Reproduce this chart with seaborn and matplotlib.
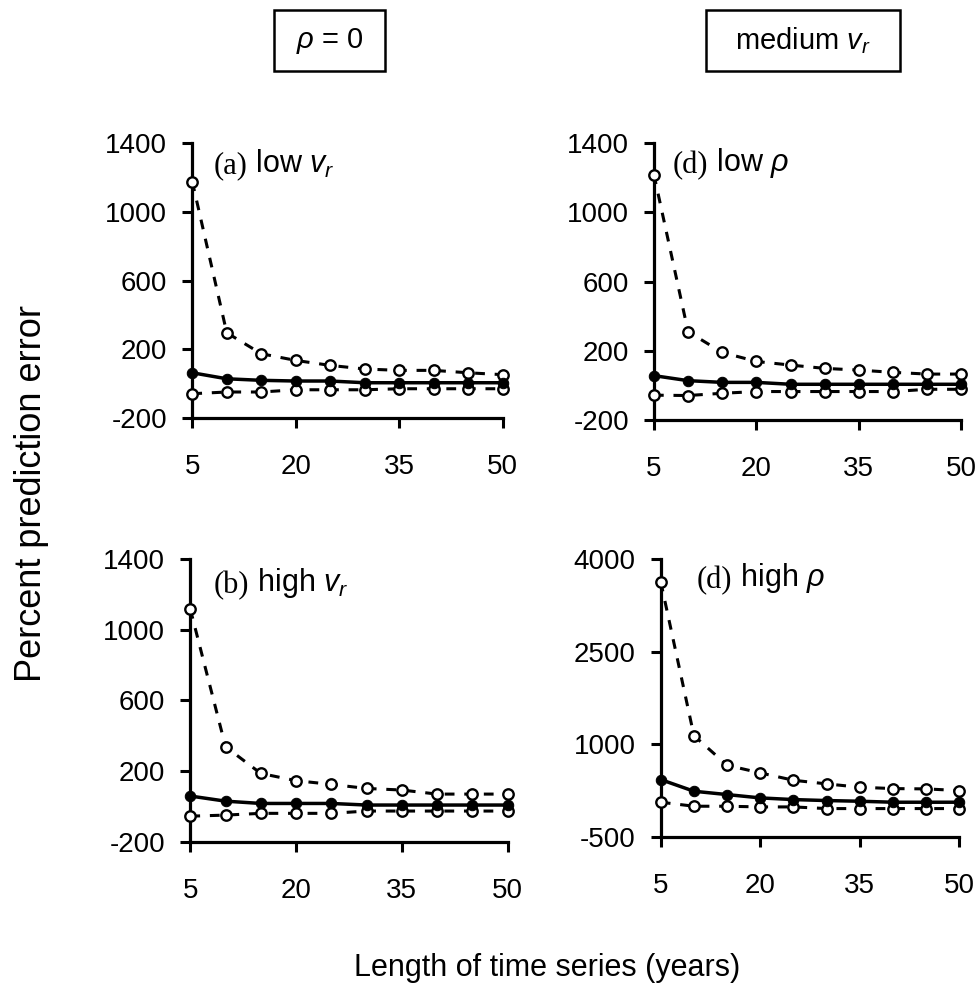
import pandas as pd
import seaborn as sns
import matplotlib.pyplot as plt
from matplotlib.patches import Rectangle

years = [5, 10, 15, 20, 25, 30, 35, 40, 45, 50]

# (a) rho = 0, low v_r
a_upper = [1177, 296, 174, 135, 106, 85, 77, 77, 63, 52]
a_mean = [63, 28, 19, 15, 15, 5, 5, 5, 5, 5]
a_lower = [-59, -49, -49, -36, -36, -36, -30, -30, -30, -30]

# (b) rho = 0, high v_r
b_upper = [1117, 338, 187, 146, 125, 102, 93, 70, 70, 70]
b_mean = [59, 30, 17, 17, 17, 8, 8, 8, 8, 8]
b_lower = [-55, -49, -39, -39, -39, -26, -26, -26, -26, -26]

# medium v_r, low rho
c_upper = [1219, 310, 190, 138, 117, 98, 88, 75, 65, 65]
c_mean = [56, 27, 17, 17, 6, 6, 6, 6, 6, 6]
c_lower = [-57, -59, -46, -36, -36, -36, -36, -36, -23, -23]

# medium v_r, high rho
d_upper = [3633, 1140, 660, 536, 417, 358, 304, 282, 277, 250]
d_mean = [428, 239, 185, 131, 104, 88, 77, 61, 61, 61]
d_lower = [61, -4, -4, -15, -15, -42, -42, -42, -42, -42]

xticks = [5, 20, 35, 50]
yticks_small = [-200, 200, 600, 1000, 1400]
yticks_big = [-500, 1000, 2500, 4000]

sns.set_style("ticks")
plt.rcParams["font.family"] = ["Liberation Sans", "DejaVu Sans"]
plt.rcParams["mathtext.fontset"] = "custom"
plt.rcParams["mathtext.rm"] = "Liberation Sans"
plt.rcParams["mathtext.it"] = "Liberation Sans:italic"
plt.rcParams["axes.unicode_minus"] = False
plt.rcParams["text.color"] = "black"
plt.rcParams["axes.labelcolor"] = "black"


def panel(ax, upper, mean, lower, yticks, tag, label, tx, ty):
    df = pd.DataFrame({"year": years, "upper": upper, "mean": mean, "lower": lower})
    for col in ["upper", "lower"]:
        sns.lineplot(data=df, x="year", y=col, ax=ax, color="black",
                     linewidth=2.2, linestyle=(0, (3.2, 3.2)), marker="o",
                     markersize=7.5, markerfacecolor="white",
                     markeredgecolor="black", markeredgewidth=1.7,
                     clip_on=False, zorder=3)
    sns.lineplot(data=df, x="year", y="mean", ax=ax, color="black",
                 linewidth=2.5, marker="o", markersize=7.5,
                 markerfacecolor="black", markeredgecolor="black",
                 clip_on=False, zorder=4)
    ax.set_xlim(5, 50)
    ax.set_ylim(yticks[0], yticks[-1])
    ax.set_xticks(xticks)
    ax.set_yticks(yticks)
    ax.set_xlabel("")
    ax.set_ylabel("")
    sns.despine(ax=ax)
    for s in ["left", "bottom"]:
        ax.spines[s].set_linewidth(2.3)
        ax.spines[s].set_color("black")
    ax.tick_params(axis="y", direction="out", length=7, width=2.2, pad=11,
                   labelsize=20, colors="black")
    ax.tick_params(axis="x", direction="out", length=7, width=2.2, pad=19,
                   labelsize=20, colors="black")
    t1 = ax.text(tx, ty, tag, transform=ax.transAxes, fontsize=22,
                 family="Liberation Serif", va="center", ha="left")
    ax.annotate(label, xy=(1, 0), xycoords=t1, xytext=(0, 0),
                textcoords="offset points", fontsize=22, va="bottom", ha="left")


fig = plt.figure(figsize=(9.76, 9.88), dpi=100)

ax_a = fig.add_axes([0.197, 0.577, 0.318, 0.278])
ax_c = fig.add_axes([0.670, 0.575, 0.315, 0.280])
ax_b = fig.add_axes([0.195, 0.148, 0.325, 0.286])
ax_d = fig.add_axes([0.677, 0.153, 0.306, 0.281])

panel(ax_a, a_upper, a_mean, a_lower, yticks_small, "(a)", r" low $\mathit{v_r}$", 0.068, 0.92)
panel(ax_c, c_upper, c_mean, c_lower, yticks_small, "(d)", r" low $\mathit{ρ}$", 0.062, 0.92)
panel(ax_b, b_upper, b_mean, b_lower, yticks_small, "(b)", r" high $\mathit{v_r}$", 0.073, 0.908)
panel(ax_d, d_upper, d_mean, d_lower, yticks_big, "(d)", r" high $\mathit{ρ}$", 0.12, 0.924)

# header boxes
for (x0, x1, txt) in [(274, 385, r"$\mathit{ρ}$ = 0"), (706, 900, r"medium $\mathit{v_r}$")]:
    fig.patches.append(Rectangle((x0 / 976, 1 - 71 / 988), (x1 - x0) / 976, 61 / 988,
                                 transform=fig.transFigure, fill=False,
                                 edgecolor="black", linewidth=1.8))
    fig.text((x0 + x1) / 2 / 976, 1 - 41 / 988, txt, fontsize=21,
             ha="center", va="center")

fig.text(0.032, 0.5, "Percent prediction error", rotation=90, fontsize=26,
         ha="center", va="center")
fig.text(0.561, 0.020, "Length of time series (years)", fontsize=22,
         ha="center", va="center")

fig.savefig("out.png", dpi=100)
